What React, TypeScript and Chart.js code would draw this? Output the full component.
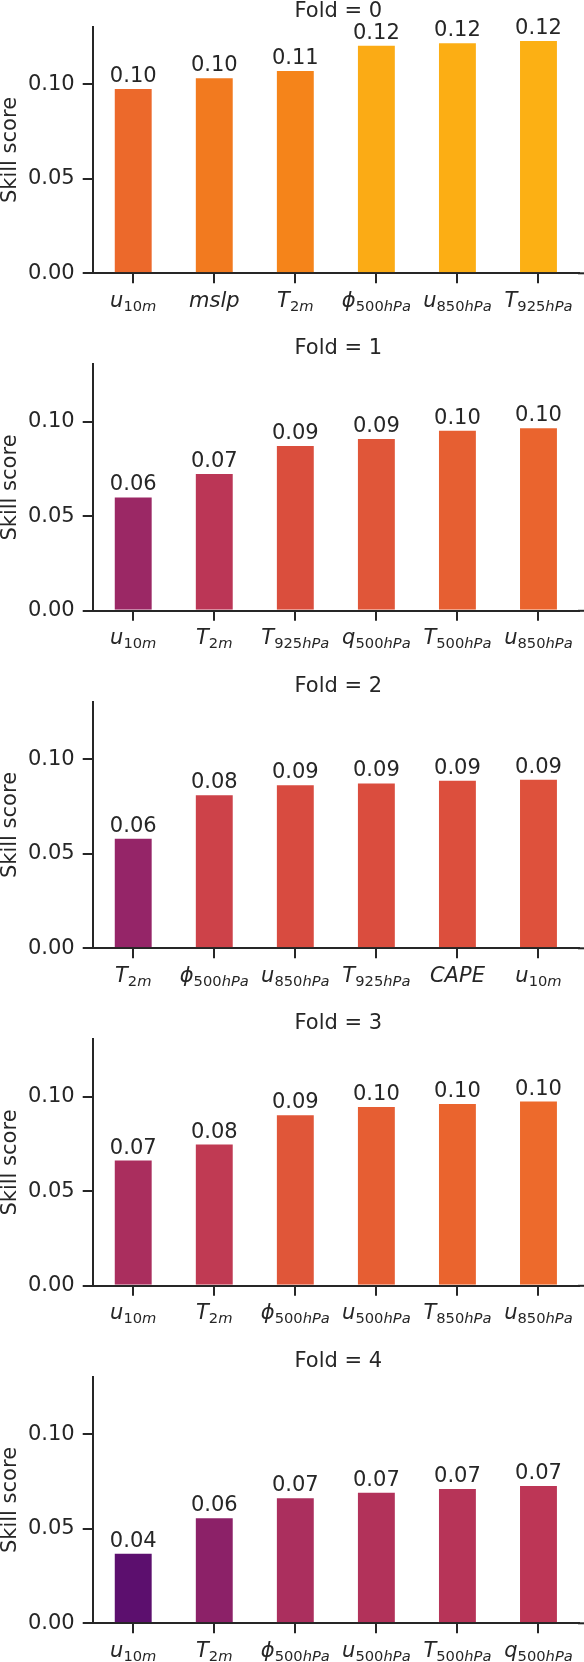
import React, { useEffect, useRef } from "react";
import { Chart, registerables } from "chart.js";

Chart.register(...registerables);

const foldTitles = ["Fold = 0", "Fold = 1", "Fold = 2", "Fold = 3", "Fold = 4"];

const fold0Labels = ["u_{10m}", "mslp", "T_{2m}", "ϕ_{500hPa}", "u_{850hPa}", "T_{925hPa}"];
const fold0Values = [0.0981, 0.1037, 0.1076, 0.1209, 0.1223, 0.1235];
const fold0Colors = ["#ec692b", "#f27a1f", "#f5841a", "#fbab15", "#fcae14", "#fcb014"];

const fold1Labels = ["u_{10m}", "T_{2m}", "T_{925hPa}", "q_{500hPa}", "T_{500hPa}", "u_{850hPa}"];
const fold1Values = [0.0605, 0.0729, 0.0877, 0.0914, 0.0958, 0.0972];
const fold1Colors = ["#9b2865", "#bb3656", "#da4e3d", "#e05639", "#e65f32", "#ea642e"];

const fold2Labels = ["T_{2m}", "ϕ_{500hPa}", "u_{850hPa}", "T_{925hPa}", "CAPE", "u_{10m}"];
const fold2Values = [0.0585, 0.0815, 0.0868, 0.0878, 0.0892, 0.0897];
const fold2Colors = ["#952568", "#cd4249", "#d84b40", "#da4d3e", "#dc4f3d", "#de513c"];

const fold3Labels = ["u_{10m}", "T_{2m}", "ϕ_{500hPa}", "u_{500hPa}", "T_{850hPa}", "u_{850hPa}"];
const fold3Values = [0.0668, 0.0753, 0.0908, 0.0951, 0.0967, 0.098];
const fold3Colors = ["#aa2e5e", "#c03a53", "#e05639", "#e65e33", "#ea642e", "#ed6a2c"];

const fold4Labels = ["u_{10m}", "T_{2m}", "ϕ_{500hPa}", "u_{500hPa}", "T_{500hPa}", "q_{500hPa}"];
const fold4Values = [0.0374, 0.0561, 0.0667, 0.0696, 0.0716, 0.0732];
const fold4Colors = ["#5c0f6e", "#8c2168", "#ab2f5e", "#b2325a", "#b73458", "#bd3656"];

const allLabels = [fold0Labels, fold1Labels, fold2Labels, fold3Labels, fold4Labels];
const allValues = [fold0Values, fold1Values, fold2Values, fold3Values, fold4Values];
const allColors = [fold0Colors, fold1Colors, fold2Colors, fold3Colors, fold4Colors];

const yTicks = [0, 0.05, 0.1];
const yMax = 0.1305;
const yLabel = "Skill score";

const INK = "#262626";
const FONT = '"DejaVu Sans"';
const FS = 21;
const W = 584;
const TOTAL_H = 1662;
const PANEL_STEP = 337.5;
const AXIS_TOP = 26.7;
const PLOT_H = 246.6;
const AXIS_LEFT = 92.7;

function parseLabel(s: string) {
  const i = s.indexOf("_");
  if (i < 0) return { base: s, sub: "" };
  return { base: s.slice(0, i), sub: s.slice(i + 2, s.length - 1) };
}

function runs(text: string) {
  return text.split("").map((ch) => ({ ch, italic: !/[0-9]/.test(ch) }));
}

function drawMath(ctx: CanvasRenderingContext2D, label: string, cx: number, baseY: number) {
  const { base, sub } = parseLabel(label);
  const subSize = FS * 0.7;
  const parts: { ch: string; italic: boolean; size: number; dy: number }[] = [];
  runs(base).forEach((r) => parts.push({ ...r, size: FS, dy: 0 }));
  runs(sub).forEach((r) => parts.push({ ...r, size: subSize, dy: 4 }));
  let total = 0;
  const widths = parts.map((p) => {
    ctx.font = `${p.italic ? "italic " : ""}${p.size}px ${FONT}`;
    const w = ctx.measureText(p.ch).width;
    total += w;
    return w;
  });
  let x = cx - total / 2;
  ctx.textAlign = "left";
  ctx.textBaseline = "alphabetic";
  ctx.fillStyle = INK;
  parts.forEach((p, i) => {
    ctx.font = `${p.italic ? "italic " : ""}${p.size}px ${FONT}`;
    ctx.fillText(p.ch, x, baseY + p.dy);
    x += widths[i];
  });
}

function Panel({ index, top, height }: { index: number; top: number; height: number }) {
  const ref = useRef<HTMLCanvasElement | null>(null);
  useEffect(() => {
    const canvas = ref.current;
    if (!canvas) return;
    const shift = PANEL_STEP * index - top;
    const padTop = AXIS_TOP + shift;
    const bottomY = padTop + PLOT_H;
    const labels = allLabels[index];
    const values = allValues[index];

    const decor = {
      id: "decor" + index,
      afterDraw(chart: any) {
        const ctx = chart.ctx as CanvasRenderingContext2D;
        const area = chart.chartArea;
        const xs = chart.scales.x;
        ctx.save();
        ctx.strokeStyle = INK;
        ctx.lineWidth = 2;
        ctx.beginPath();
        ctx.moveTo(area.right - 1, area.bottom);
        ctx.lineTo(W, area.bottom);
        ctx.stroke();
        ctx.fillStyle = INK;
        ctx.font = `${FS}px ${FONT}`;
        ctx.textAlign = "center";
        ctx.textBaseline = "alphabetic";
        ctx.fillText(foldTitles[index], (AXIS_LEFT + W) / 2, area.top - 10);
        ctx.save();
        ctx.translate(16, (area.top + area.bottom) / 2);
        ctx.rotate(-Math.PI / 2);
        ctx.fillText(yLabel, 0, 0);
        ctx.restore();
        const meta = chart.getDatasetMeta(0);
        meta.data.forEach((bar: any, i: number) => {
          ctx.font = `${FS}px ${FONT}`;
          ctx.textAlign = "center";
          ctx.fillStyle = INK;
          ctx.fillText(values[i].toFixed(2), bar.x, bar.y - 6);
        });
        labels.forEach((lab, i) => {
          drawMath(ctx, lab, xs.getPixelForValue(i), area.bottom + 33.2);
        });
        ctx.restore();
      },
    };

    const chart = new Chart(canvas, {
      type: "bar",
      data: {
        labels: labels,
        datasets: [
          {
            data: values,
            backgroundColor: allColors[index],
            borderColor: "rgba(255,255,255,0.3)",
            borderWidth: 1,
            barPercentage: 0.48,
            categoryPercentage: 1,
          },
        ],
      },
      options: {
        animation: false,
        responsive: false,
        maintainAspectRatio: false,
        layout: { padding: { top: padTop, right: 5, left: 0, bottom: 0 } },
        plugins: {
          legend: { display: false },
          tooltip: { enabled: false },
          title: { display: false },
        },
        scales: {
          x: {
            type: "category",
            offset: true,
            grid: {
              display: true,
              drawOnChartArea: false,
              drawTicks: true,
              tickLength: 10,
              offset: false,
              color: INK,
              lineWidth: 2,
            },
            border: { display: true, color: INK, width: 2 },
            ticks: {
              autoSkip: false,
              maxRotation: 0,
              minRotation: 0,
              callback: () => "",
            },
            afterFit: (s: any) => {
              s.height = height - bottomY;
            },
          },
          y: {
            type: "linear",
            min: 0,
            max: yMax,
            afterBuildTicks: (s: any) => {
              s.ticks = yTicks.map((v) => ({ value: v }));
            },
            afterFit: (s: any) => {
              s.width = AXIS_LEFT;
            },
            grid: {
              drawOnChartArea: false,
              drawTicks: true,
              tickLength: 10,
              color: INK,
              lineWidth: 2,
            },
            border: { display: true, color: INK, width: 2 },
            ticks: {
              color: INK,
              padding: 8,
              font: { family: "DejaVu Sans", size: FS },
              callback: (v: any) => Number(v).toFixed(2),
            },
          },
        },
      },
      plugins: [decor],
    } as any);
    return () => chart.destroy();
  }, [index, top, height]);

  return (
    <canvas
      ref={ref}
      width={W}
      height={height}
      style={{ position: "absolute", left: 0, top: top, width: W, height: height, display: "block" }}
    />
  );
}

export default function App() {
  const tops = [0, 1, 2, 3, 4].map((k) => Math.round(PANEL_STEP * k));
  const heights = tops.map((t, k) => (k < 4 ? tops[k + 1] - t : TOTAL_H - t));
  return (
    <div style={{ position: "absolute", left: 0, top: 0, width: W, height: TOTAL_H, background: "#fff" }}>
      {tops.map((t, k) => (
        <Panel key={k} index={k} top={t} height={heights[k]} />
      ))}
    </div>
  );
}
